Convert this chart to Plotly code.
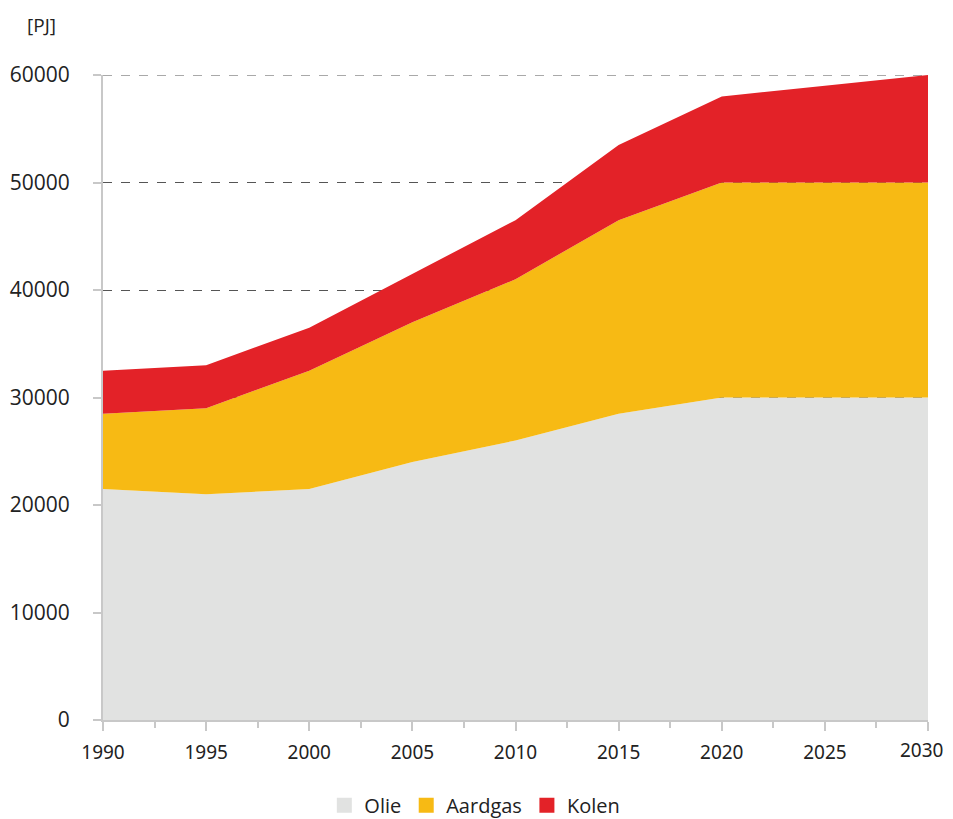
import plotly.graph_objects as go

# data (PJ)
years = [1990, 1995, 2000, 2005, 2010, 2015, 2020, 2025, 2030]
olie = [21500, 21000, 21500, 24000, 26000, 28500, 30000, 30000, 30000]
aardgas = [7000, 8000, 11000, 13000, 15000, 18000, 20000, 20000, 20000]
kolen = [4000, 4000, 4000, 4500, 5500, 7000, 8000, 9000, 10000]

series = [
    ("Olie", olie, "#e1e2e1"),
    ("Aardgas", aardgas, "#f7ba14"),
    ("Kolen", kolen, "#e32228"),
]

fig = go.Figure()
for name, vals, color in series:
    fig.add_trace(go.Scatter(
        x=years, y=vals, name=name,
        mode="lines", stackgroup="one",
        line=dict(width=0, color=color),
        fillcolor=color, showlegend=False,
    ))
# square legend markers like the original
for name, vals, color in series:
    fig.add_trace(go.Scatter(
        x=[None], y=[None], name=name, mode="markers",
        marker=dict(symbol="square", size=15, color=color),
    ))

axis_grey = "#c8c8c8"
tick_font = dict(size=19, family="Noto Sans, Open Sans, sans-serif")

# last x label is drawn separately, nudged left so it is not cut at the edge
x_labels = [str(y) for y in years[:-1]] + [""]

# page body has an 8px margin, so everything sits 8px right and down
fig.update_layout(
    width=945, height=811,
    margin=dict(l=95, r=25, t=67, b=99),
    paper_bgcolor="white",
    plot_bgcolor="white",
    font=dict(family="Open Sans, Noto Sans, sans-serif", size=21, color="#222222"),
    showlegend=True,
    legend=dict(
        orientation="h", xref="container", yref="container",
        x=0.494, xanchor="center", y=0.017, yanchor="middle",
        font=dict(size=20), itemwidth=30, traceorder="normal",
    ),
    xaxis=dict(
        range=[1990, 2030], tickmode="array", tickvals=years, ticktext=x_labels,
        showgrid=False, zeroline=False, automargin=False,
        showline=True, linecolor=axis_grey, linewidth=2,
        ticks="outside", ticklen=9, tickwidth=2, tickcolor=axis_grey,
        minor=dict(ticks="outside", dtick=2.5, tick0=1990, ticklen=6,
                   tickwidth=2, tickcolor=axis_grey, showgrid=False),
        tickfont=tick_font, ticklabelstandoff=5,
    ),
    yaxis=dict(
        range=[0, 60000], tickmode="linear", tick0=0, dtick=10000,
        showgrid=True, gridcolor="#555555", griddash="dash", gridwidth=1,
        zeroline=False, automargin=False,
        showline=True, linecolor=axis_grey, linewidth=2,
        ticks="outside", ticklen=8, tickwidth=2, tickcolor=axis_grey,
        tickfont=dict(size=21), tickformat="d", ticklabelstandoff=19,
    ),
    shapes=[dict(
        type="line", xref="paper", yref="y", x0=0, x1=1, y0=60000, y1=60000,
        line=dict(color="#555555", width=1, dash="dash"), layer="below",
    )],
    annotations=[
        dict(
            text="[PJ]", xref="paper", yref="paper", x=-0.0945, y=1.0775,
            xanchor="left", yanchor="middle", showarrow=False,
            font=dict(size=19),
        ),
        dict(
            text=str(years[-1]), xref="x", yref="paper", x=years[-1], y=0,
            xanchor="center", yanchor="middle", xshift=-7, yshift=-30,
            showarrow=False, font=tick_font,
        ),
    ],
)

fig.write_html("out.html")
